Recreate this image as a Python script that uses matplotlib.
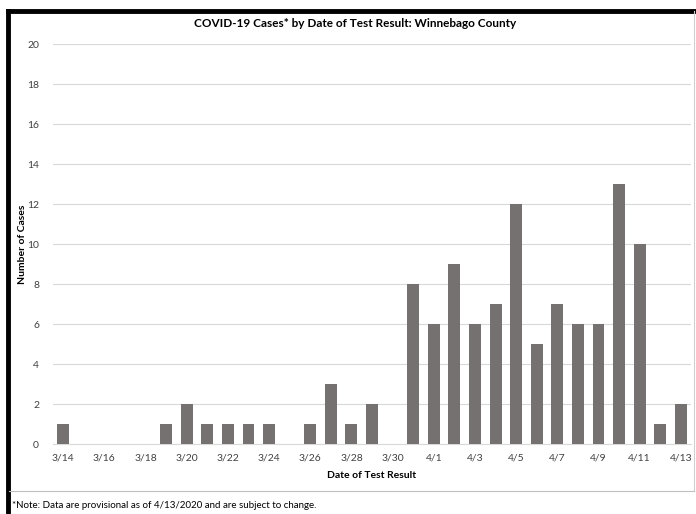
import matplotlib
matplotlib.use('Agg')
import matplotlib.pyplot as plt
from matplotlib.lines import Line2D

plt.rcParams['font.family'] = ['Lato', 'DejaVu Sans']

# Daily cases, 3/14 through 4/13
dates = ['3/14', '3/15', '3/16', '3/17', '3/18', '3/19', '3/20', '3/21',
         '3/22', '3/23', '3/24', '3/25', '3/26', '3/27', '3/28', '3/29',
         '3/30', '3/31', '4/1', '4/2', '4/3', '4/4', '4/5', '4/6', '4/7',
         '4/8', '4/9', '4/10', '4/11', '4/12', '4/13']
cases = [1, 0, 0, 0, 0, 1, 2, 1, 1, 1, 1, 0, 1, 3, 1, 2,
         0, 8, 6, 9, 6, 7, 12, 5, 7, 6, 6, 13, 10, 1, 2]
y_ticks = [0, 2, 4, 6, 8, 10, 12, 14, 16, 18, 20]

fig = plt.figure(figsize=(6.96, 5.14), dpi=100)
ax = fig.add_axes([0.076, 0.136, 0.917, 0.778])

x = list(range(len(dates)))
ax.bar(x, cases, width=0.58, color='#767171', zorder=3)

ax.set_xlim(-0.5, len(dates) - 0.5)
ax.set_ylim(0, 20)
ax.set_yticks(y_ticks)
ax.set_xticks(x[::2])
ax.set_xticklabels(dates[::2])
ax.tick_params(axis='both', length=0, labelsize=7.5, colors='#404040')
ax.tick_params(axis='x', pad=7)
ax.tick_params(axis='y', pad=10)
ax.grid(axis='y', color='#d9d9d9', linewidth=0.8, zorder=0)
for s in ['top', 'right', 'left']:
    ax.spines[s].set_visible(False)
ax.spines['bottom'].set_color('#d9d9d9')

ax.set_xlabel('Date of Test Result', fontsize=7.5, fontweight='bold', labelpad=6)
ax.set_ylabel('Number of Cases', fontsize=7.5, fontweight='bold')
ax.yaxis.set_label_coords(-0.040, 0.5)

fig.text(0.51, 0.955, 'COVID-19 Cases* by Date of Test Result: Winnebago County',
         ha='center', va='center', fontsize=8.5, fontweight='bold')
fig.text(0.017, 0.017, '*Note: Data are provisional as of 4/13/2020 and are subject to change.',
         ha='left', va='center', fontsize=7)

# outer frame and separator line
fig.add_artist(Line2D([0.011, 0.011], [0, 0.979], color='black', linewidth=3.5))
fig.add_artist(Line2D([0.011, 1.0], [0.979, 0.979], color='black', linewidth=3.5))
fig.add_artist(Line2D([0.997, 0.997], [0.045, 0.979], color='#d0d0d0', linewidth=0.8))
fig.add_artist(Line2D([0.013, 0.997], [0.045, 0.045], color='#bfbfbf', linewidth=0.8))

fig.savefig('out.png', dpi=100)
